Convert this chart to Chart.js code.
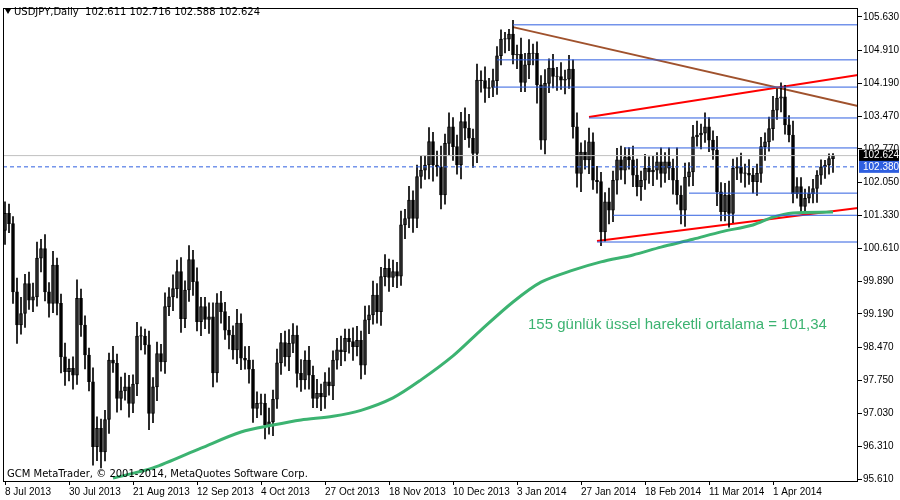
<!DOCTYPE html>
<html><head><meta charset="utf-8">
<script src="https://cdn.jsdelivr.net/npm/chart.js@4.4.1/dist/chart.umd.min.js"></script>
<style>html,body{margin:0;padding:0;background:#fff}#wrap{width:900px;height:500px}</style>
</head><body><div id="wrap"><canvas id="c"></canvas></div>
<script>
const tickLabels=["8 Jul 2013","30 Jul 2013","21 Aug 2013","12 Sep 2013","4 Oct 2013","27 Oct 2013","18 Nov 2013","10 Dec 2013","3 Jan 2014","27 Jan 2014","18 Feb 2014","11 Mar 2014","1 Apr 2014"];
const yTicks=[95.61,96.31,97.03,97.75,98.47,99.19,99.89,100.61,101.33,102.05,102.77,103.47,104.19,104.91,105.63];
const closes=[101.37,101.15,99.67,98.95,99.20,99.85,99.49,99.56,100.40,100.61,99.67,99.42,100.25,99.42,98.26,97.94,98.01,97.86,99.53,98.95,98.30,97.72,96.31,96.71,96.20,96.90,98.19,98.12,97.36,97.52,97.61,97.25,97.67,98.71,98.71,98.52,97.03,97.61,98.33,98.15,99.35,99.56,99.74,100.11,99.09,99.71,100.37,99.89,99.02,99.35,99.07,99.13,97.91,99.43,99.24,98.84,98.73,98.41,98.99,98.23,98.19,97.99,97.14,97.25,97.25,96.78,96.85,97.34,98.13,98.57,98.26,98.55,
98.73,97.90,97.76,98.19,97.86,97.36,97.47,97.39,97.72,97.63,98.19,98.41,98.37,98.66,98.59,98.48,98.62,98.08,99.06,99.17,99.60,99.24,100.00,100.18,99.98,100.11,100.01,101.12,101.26,101.66,101.26,102.17,102.31,102.42,102.93,102.42,102.38,101.77,102.89,103.25,102.82,102.42,103.36,103.22,103.00,102.67,104.26,104.25,104.08,104.10,104.25,104.79,105.15,105.15,105.26,104.81,104.82,104.21,104.59,104.84,104.84,104.16,102.96,104.19,104.52,104.34,104.34,104.26,104.28,104.50,103.25,102.24,
102.70,102.53,102.92,102.09,102.06,100.97,101.62,101.44,102.09,102.53,102.31,102.60,102.53,102.20,101.95,102.09,102.35,102.27,102.31,102.49,102.24,102.49,102.35,102.09,101.77,101.44,102.16,102.27,103.03,103.07,103.11,103.25,102.96,102.74,101.84,101.41,101.77,101.37,102.35,102.38,102.24,102.24,102.20,102.06,102.24,102.82,102.92,103.21,103.61,103.87,103.90,103.29,103.07,101.80,101.95,101.52,101.70,101.80,101.91,102.20,102.38,102.42,102.56,102.62];
const firstOpen=101.0;
const wickUp=[0.25,0.2,0.15,0.3,0.35,0.2,0.25,0.3,0.35,0.2,0.3,0.2,0.3,0.15,0.2,0.3,0.2,0.25,0.4,0.2,0.2,0.15,0.3,0.25,0.2,0.2,0.15,0.3,0.2,0.3,0.3,0.25,0.2,0.3,0.2,0.15,0.3,0.2,0.25,0.2,0.3,0.2,0.3,0.25,0.3,0.2,0.3,0.2,0.3,0.2,0.2,0.3,0.3,0.2,0.25,0.2,0.3,0.2,0.3,0.2,0.25,0.3,0.2,0.25,0.2,0.2,0.3,0.2,0.3,0.2,0.25,0.3,0.25,0.2,0.3,0.2,0.3,0.2,0.3,0.2,0.2,0.3,0.2,0.25,0.3,0.2,0.2,0.3,0.3,0.2,0.3,0.2,0.3,0.25,0.2,0.3,0.2,0.25,0.2,0.3,0.2,0.3,0.2,0.25,0.3,0.2,0.3,0.2,0.3,0.45,0.2,0.3,0.2,0.25,0.2,0.3,0.3,0.2,0.35,0.2,0.3,0.2,0.25,0.2,0.2,0.15,0.1,0.3,0.2,0.35,0.25,0.3,0.2,0.25,0.2,0.3,0.2,0.3,0.2,0.3,0.2,0.3,0.2,0.3,0.2,0.25,0.3,0.2,0.3,0.2,0.2,0.3,0.2,0.25,0.3,0.2,0.2,0.3,0.35,0.2,0.3,0.25,0.3,0.2,0.3,0.2,0.3,0.2,0.7,0.2,0.3,0.2,0.25,0.3,0.2,0.3,0.2,0.2,0.3,0.2,0.25,0.3,0.2,0.2,0.3,0.2,0.3,0.15,0.2,0.2,0.2,0.25,0.3,0.2,0.3,0.25,0.2,0.3,0.2,0.2,0.2,0.15,0.2,0.1,0.15,0.1,0.1,0.05,0.1,0.1,0.1,0.1];
const wickDn=[0.3,0.2,0.25,0.4,0.2,0.3,0.2,0.25,0.2,0.3,0.2,0.3,0.2,0.25,0.35,0.3,0.2,0.3,0.2,0.25,0.3,0.2,0.4,0.3,0.35,0.2,0.3,0.2,0.3,0.25,0.2,0.3,0.2,0.25,0.3,0.2,0.35,0.2,0.3,0.2,0.25,0.2,0.3,0.2,0.3,0.2,0.25,0.3,0.2,0.3,0.2,0.3,0.3,0.2,0.25,0.2,0.3,0.2,0.3,0.25,0.2,0.3,0.3,0.2,0.25,0.3,0.2,0.3,0.2,0.25,0.2,0.3,0.2,0.3,0.25,0.2,0.3,0.2,0.2,0.3,0.25,0.2,0.3,0.2,0.3,0.2,0.25,0.3,0.2,0.3,0.2,0.3,0.2,0.25,0.3,0.2,0.3,0.2,0.25,0.2,0.3,0.2,0.3,0.2,0.25,0.2,0.3,0.35,0.2,0.3,0.2,0.25,0.3,0.2,0.3,0.25,0.2,0.3,0.2,0.25,0.3,0.2,0.2,0.3,0.2,0.3,0.25,0.2,0.3,0.2,0.2,0.3,0.25,0.4,0.2,0.3,0.2,0.25,0.3,0.2,0.3,0.2,0.25,0.3,0.4,0.2,0.3,0.2,0.25,0.3,0.2,0.3,0.25,0.3,0.2,0.3,0.2,0.25,0.2,0.3,0.2,0.25,0.3,0.2,0.3,0.2,0.25,0.3,0.2,0.3,0.35,0.2,0.3,0.2,0.3,0.2,0.25,0.2,0.3,0.2,0.2,0.3,0.2,0.25,0.2,0.3,0.2,0.25,0.3,0.2,0.3,0.2,0.25,0.2,0.3,0.2,0.15,0.2,0.1,0.15,0.1,0.1,0.2,0.3,0.2,0.25,0.2,0.3,0.2,0.25,0.2,0.15,0.1,0.1];
const emaIdx=[27,37,49,59,67,74,82,89,97,104,112,119,127,134,142,149,157,164,172,179,187,192,197,207];
const emaVal=[95.63,95.85,96.28,96.63,96.78,96.89,96.97,97.10,97.37,97.76,98.28,98.84,99.45,99.88,100.14,100.32,100.47,100.64,100.81,100.97,101.12,101.29,101.38,101.40];
const brownLine=[[127,105.41],[213.25,103.70]];
const redUpper=[[146,103.46],[213.25,104.37]];
const redLower=[[148,100.77],[213.25,101.49]];
const blueLevels=[[127,105.46],[123,104.70],[122,104.11],[146,103.44],[155,102.79],[171,101.81],[152,101.33],[148,100.75]];
const lastPrice=102.624, refPrice=102.380;

const opens=closes.map((c,i)=>i===0?firstOpen:closes[i-1]);
const up=[],dn=[],wick=[];
closes.forEach((c,i)=>{const o=opens[i];
  wick.push({x:i,y:[Math.min(o,c)-(wickDn[i]||0.1),Math.max(o,c)+(wickUp[i]||0.1)]});
  const b={x:i,y:[o,c===o?c+0.01:c]};
  (c>=o?up:dn).push(b);});
const XMIN=-0.5,XMAX=213.25;
const BLUE='#2f5fe0';
const ds=[];
ds.push({type:'line',data:[{x:XMIN,y:lastPrice},{x:XMAX,y:lastPrice}],borderColor:'#c0c0c0',borderWidth:1,pointRadius:0});
ds.push({type:'line',data:[{x:XMIN,y:refPrice},{x:XMAX,y:refPrice}],borderColor:BLUE,borderWidth:1,borderDash:[4,3],pointRadius:0});
blueLevels.forEach(l=>ds.push({type:'line',data:[{x:l[0],y:l[1]},{x:XMAX,y:l[1]}],borderColor:BLUE,borderWidth:1,pointRadius:0}));
ds.push({type:'line',data:emaIdx.map((x,k)=>({x,y:emaVal[k]})),borderColor:'#3cb371',borderWidth:3,pointRadius:0,tension:0.3});
ds.push({type:'bar',data:wick,backgroundColor:'#000',barThickness:1,grouped:false});
ds.push({type:'bar',data:up,backgroundColor:'#fff',borderColor:'#000',borderWidth:1,borderSkipped:false,barThickness:3,grouped:false});
ds.push({type:'bar',data:dn,backgroundColor:'#000',borderColor:'#000',borderWidth:1,borderSkipped:false,barThickness:3,grouped:false});
[[brownLine,'#a0522d'],[redUpper,'#ff0000'],[redLower,'#ff0000']].forEach(([p,c])=>ds.push({type:'line',data:p.map(q=>({x:q[0],y:q[1]})),borderColor:c,borderWidth:2,pointRadius:0}));

const deco={id:'deco',afterDraw(ch){const ctx=ch.ctx,a=ch.chartArea,ys=ch.scales.y;
  ctx.save();ctx.strokeStyle='#000';ctx.lineWidth=1;ctx.strokeRect(a.left+0.5,a.top+0.5,a.right-a.left-1,a.bottom-a.top);
  ctx.fillStyle='#000';ctx.textBaseline='middle';
  ctx.beginPath();ctx.moveTo(5,9);ctx.lineTo(11,9);ctx.lineTo(8,14);ctx.closePath();ctx.fill();
  ctx.font='10px "DejaVu Sans"';
  ctx.fillText('USDJPY,Daily  102.611 102.716 102.588 102.624',14,12);
  ctx.fillText('GCM MetaTrader, © 2001-2014, MetaQuotes Software Corp.',7,474);
  ctx.font='15px "Liberation Sans"';ctx.fillStyle='#3cb371';ctx.fillText('155 günlük üssel hareketli ortalama = 101,34',528,325);
  ctx.font='10px "Liberation Sans"';
  [[lastPrice,'#000','102.624'],[refPrice,BLUE,'102.380']].forEach(([v,bg,t])=>{const y=ys.getPixelForValue(v);
    ctx.fillStyle=bg;ctx.fillRect(a.right+1,y-6,40,12);ctx.fillStyle='#fff';ctx.fillText(t,a.right+5,y);});
  ctx.restore();}};

new Chart(document.getElementById('c'),{data:{datasets:ds},plugins:[deco],
options:{responsive:true,maintainAspectRatio:false,animation:false,
 layout:{padding:{left:3,top:8,right:0,bottom:0}},
 plugins:{legend:{display:false},tooltip:{enabled:false}},
 scales:{
  x:{type:'linear',offset:false,min:XMIN,max:XMAX,grid:{display:true,drawOnChartArea:false,offset:false,color:'#000',tickLength:4},border:{display:false},
     afterBuildTicks:s=>{s.ticks=tickLabels.map((t,k)=>({value:k*16}));},
     afterFit:s=>{s.height=19;s.paddingLeft=0;s.paddingRight=0;},
     ticks:{autoSkip:false,maxRotation:0,align:'start',padding:1,color:'#000',font:{family:'Liberation Sans',size:10},callback:(v,k)=>tickLabels[k]}},
  y:{position:'right',min:95.567,max:105.825,grid:{display:true,drawOnChartArea:false,color:'#000',tickLength:4},border:{display:false},
     afterBuildTicks:s=>{s.ticks=yTicks.map(v=>({value:v}));},
     afterFit:s=>{s.width=42;},
     ticks:{padding:1,color:'#000',font:{family:'Liberation Sans',size:10},callback:v=>v.toFixed(3)}}
 }}});
</script></body></html>
